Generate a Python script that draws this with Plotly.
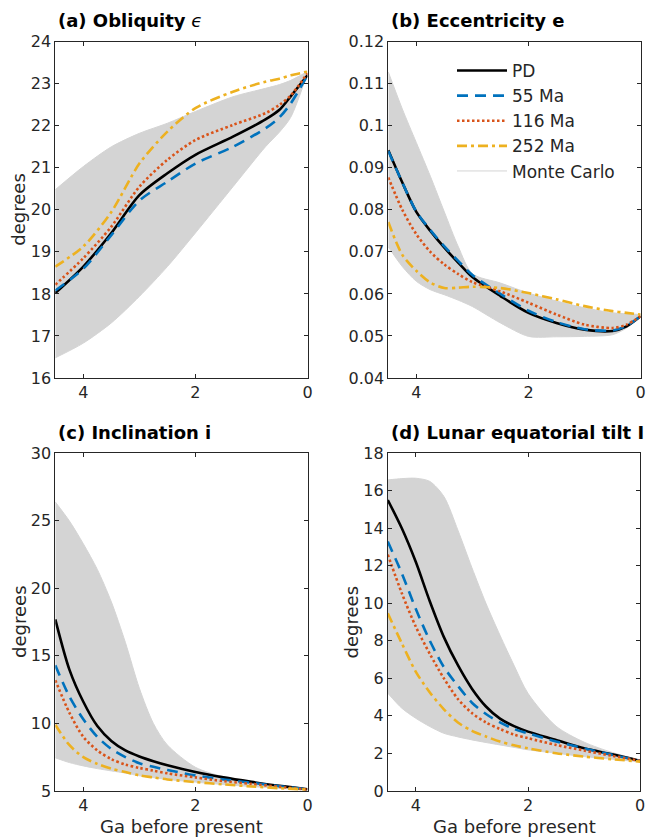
import plotly.graph_objects as go

# ---------------- data ----------------
# x values: Ga before present
xa = [4.5, 4.0, 3.5, 3.0, 2.5, 2.0, 1.33, 0.75, 0.5, 0.3, 0.0]
a_pd   = [18.02, 18.65, 19.45, 20.35, 20.87, 21.31, 21.74, 22.15, 22.38, 22.70, 23.20]
a_55   = [18.08, 18.60, 19.40, 20.22, 20.67, 21.10, 21.50, 21.94, 22.20, 22.53, 23.20]
a_116  = [18.22, 18.85, 19.60, 20.55, 21.19, 21.66, 22.02, 22.30, 22.50, 22.72, 23.25]
a_252  = [18.65, 19.13, 19.95, 21.10, 21.86, 22.42, 22.81, 23.05, 23.12, 23.20, 23.29]
a_mc_hi = [20.48, 21.03, 21.50, 21.82, 22.06, 22.34, 22.69, 22.89, 22.98, 23.08, 23.29]
a_mc_lo = [16.48, 16.83, 17.31, 17.94, 18.65, 19.45, 20.55, 21.50, 21.85, 22.20, 23.25]

xb = [4.5, 4.25, 4.0, 3.75, 3.5, 3.25, 3.0, 2.5, 2.0, 1.5, 1.0, 0.5, 0.25, 0.0]
b_pd   = [0.0942, 0.0865, 0.0795, 0.0750, 0.0710, 0.0674, 0.0640, 0.0595, 0.0555, 0.0531, 0.0515, 0.0512, 0.0523, 0.0547]
b_55   = [0.0940, 0.0865, 0.0796, 0.0752, 0.0713, 0.0678, 0.0645, 0.0600, 0.0560, 0.0533, 0.0516, 0.0513, 0.0524, 0.0547]
b_116  = [0.0877, 0.0800, 0.0742, 0.0700, 0.0670, 0.0647, 0.0628, 0.0606, 0.0579, 0.0551, 0.0527, 0.0519, 0.0527, 0.0547]
b_252  = [0.0771, 0.0693, 0.0655, 0.0627, 0.0614, 0.0615, 0.0617, 0.0614, 0.0602, 0.0587, 0.0571, 0.0559, 0.0555, 0.0551]
b_mc_hi = [0.1128, 0.1040, 0.0960, 0.0880, 0.0795, 0.0712, 0.0648, 0.0626, 0.0602, 0.0583, 0.0567, 0.0555, 0.0553, 0.0551]
b_mc_lo = [0.0712, 0.0665, 0.0630, 0.0610, 0.0598, 0.0585, 0.0570, 0.0531, 0.0499, 0.0498, 0.0499, 0.0503, 0.0519, 0.0547]

xc = [4.5, 4.25, 4.0, 3.75, 3.5, 3.25, 3.0, 2.75, 2.5, 2.0, 1.5, 1.0, 0.5, 0.0]
c_pd   = [17.70, 14.00, 11.60, 9.80, 8.70, 8.00, 7.55, 7.20, 6.90, 6.40, 6.00, 5.67, 5.37, 5.12]
c_55   = [14.30, 12.00, 10.30, 9.00, 8.10, 7.50, 7.05, 6.78, 6.55, 6.15, 5.85, 5.60, 5.35, 5.12]
c_116  = [13.20, 10.80, 9.00, 8.00, 7.35, 6.95, 6.70, 6.50, 6.30, 6.00, 5.72, 5.52, 5.30, 5.10]
c_252  = [9.90, 8.40, 7.50, 7.00, 6.65, 6.40, 6.15, 6.00, 5.85, 5.65, 5.48, 5.33, 5.20, 5.10]
c_mc_hi = [26.40, 25.00, 23.30, 21.40, 19.00, 16.00, 12.60, 10.00, 8.40, 6.75, 6.05, 5.68, 5.38, 5.12]
c_mc_lo = [7.45, 7.10, 6.85, 6.65, 6.48, 6.32, 6.12, 5.98, 5.85, 5.65, 5.47, 5.32, 5.19, 5.05]

xd = [4.5, 4.25, 4.0, 3.75, 3.5, 3.25, 3.0, 2.75, 2.5, 2.25, 2.0, 1.5, 1.0, 0.5, 0.0]
d_pd   = [15.51, 14.00, 12.20, 10.10, 8.20, 6.70, 5.45, 4.50, 3.85, 3.45, 3.16, 2.72, 2.27, 1.95, 1.60]
d_55   = [13.29, 11.60, 9.70, 8.00, 6.60, 5.60, 4.70, 4.10, 3.65, 3.30, 3.07, 2.63, 2.27, 1.92, 1.60]
d_116  = [12.60, 10.54, 8.75, 7.30, 6.00, 4.90, 4.15, 3.65, 3.30, 3.00, 2.81, 2.45, 2.15, 1.87, 1.60]
d_252  = [9.47, 7.87, 6.35, 5.25, 4.35, 3.65, 3.20, 2.90, 2.63, 2.43, 2.27, 2.01, 1.83, 1.69, 1.56]
d_mc_hi = [16.58, 16.65, 16.67, 16.50, 15.70, 13.90, 11.90, 10.00, 8.30, 6.70, 5.20, 3.45, 2.60, 2.05, 1.65]
d_mc_lo = [5.21, 4.41, 3.87, 3.43, 3.07, 2.88, 2.72, 2.58, 2.45, 2.32, 2.19, 2.01, 1.83, 1.69, 1.55]

series_names = ["PD", "55 Ma", "116 Ma", "252 Ma"]
panel_titles = ["<b>(a) Obliquity</b> <i>ϵ</i>", "<b>(b) Eccentricity e</b>",
                "<b>(c) Inclination i</b>", "<b>(d) Lunar equatorial tilt I</b>"]
x_ticks = [0, 2, 4]
a_ticks = [16, 17, 18, 19, 20, 21, 22, 23, 24]
b_ticks = [0.04, 0.05, 0.06, 0.07, 0.08, 0.09, 0.10, 0.11, 0.12]
b_ticktext = ["0.04", "0.05", "0.06", "0.07", "0.08", "0.09", "0.1", "0.11", "0.12"]
c_ticks = [5, 10, 15, 20, 25, 30]
d_ticks = [0, 2, 4, 6, 8, 10, 12, 14, 16, 18]

# ---------------- styling ----------------
W, H = 646, 838
FONT = "DejaVu Sans"
AX = "#262626"
MC = "rgb(212,212,212)"
styles = [
    dict(color="#000000", width=2.6, dash="solid"),
    dict(color="#0072BD", width=2.6, dash="11px,7px"),
    dict(color="#D95319", width=2.6, dash="2.5px,2.5px"),
    dict(color="#EDB120", width=2.6, dash="10px,4px,3px,4px"),
]

# panel geometry in pixels: left, right, top, bottom
geo = [(55.3, 307.5, 41.7, 378.0), (388.3, 640.6, 41.7, 378.0),
       (55.3, 307.5, 453.3, 790.9), (387.8, 640.2, 453.3, 790.9)]

panels = [
    (xa, [a_pd, a_55, a_116, a_252], a_mc_lo, a_mc_hi, [16, 24], a_ticks, None),
    (xb, [b_pd, b_55, b_116, b_252], b_mc_lo, b_mc_hi, [0.04, 0.12], b_ticks, b_ticktext),
    (xc, [c_pd, c_55, c_116, c_252], c_mc_lo, c_mc_hi, [5, 30], c_ticks, None),
    (xd, [d_pd, d_55, d_116, d_252], d_mc_lo, d_mc_hi, [0, 18], d_ticks, None),
]

fig = go.Figure()
annotations = []
for i, (xs, curves, lo, hi, yr, yt, ytt) in enumerate(panels):
    k = "" if i == 0 else str(i + 1)
    xref, yref = "x" + k, "y" + k
    leg = (i == 1)
    # Monte Carlo envelope
    fig.add_trace(go.Scatter(x=xs, y=lo, mode="lines", xaxis=xref, yaxis=yref,
                             line=dict(color=MC, width=1, shape="spline", smoothing=0.8),
                             name="Monte Carlo", showlegend=leg, legendrank=1005,
                             hoverinfo="skip"))
    fig.add_trace(go.Scatter(x=xs, y=hi, mode="lines", xaxis=xref, yaxis=yref,
                             line=dict(color=MC, width=1, shape="spline", smoothing=0.8),
                             fill="tonexty", fillcolor=MC, showlegend=False,
                             hoverinfo="skip"))
    for j, (ys, nm) in enumerate(zip(curves, series_names)):
        st = styles[j]
        fig.add_trace(go.Scatter(x=xs, y=ys, mode="lines", xaxis=xref, yaxis=yref,
                                 name=nm, showlegend=leg, legendrank=1001 + j,
                                 line=dict(color=st["color"], width=st["width"],
                                           dash=st["dash"], shape="spline", smoothing=0.8)))
    l, r, t, b = geo[i]
    xax = dict(domain=[l / W, r / W], range=[4.5, 0], tickvals=x_ticks,
               ticks="inside", ticklen=4, tickwidth=1, tickcolor=AX,
               showline=True, linecolor=AX, linewidth=1, mirror="ticks",
               showgrid=False, zeroline=False, anchor=yref,
               ticklabeloverflow="allow",
               tickfont=dict(family=FONT, size=16, color=AX), automargin=False)
    yax = dict(domain=[1 - b / H, 1 - t / H], range=yr, tickvals=yt,
               ticks="inside", ticklen=4, tickwidth=1, tickcolor=AX,
               showline=True, linecolor=AX, linewidth=1, mirror="ticks",
               showgrid=False, zeroline=False, anchor=xref,
               ticklabeloverflow="allow",
               tickfont=dict(family=FONT, size=16, color=AX), automargin=False)
    if ytt is not None:
        yax["ticktext"] = ytt
    fig.layout["xaxis" + k] = xax
    fig.layout["yaxis" + k] = yax
    # panel title
    annotations.append(dict(text=panel_titles[i], xref="paper", yref="paper",
                            x=(l + 1) / W, y=1 - (t - 21) / H, xanchor="left", yanchor="middle",
                            showarrow=False, font=dict(family=FONT, size=18, color="#000000")))
    if i != 1:
        annotations.append(dict(text="degrees", xref="paper", yref="paper",
                                x=(l - 36.5) / W, y=1 - (t + b) / 2 / H, textangle=-90,
                                xanchor="center", yanchor="middle", showarrow=False,
                                font=dict(family=FONT, size=18, color=AX)))
    if i >= 2:
        annotations.append(dict(text="Ga before present", xref="paper", yref="paper",
                                x=(l + r) / 2 / W, y=1 - (b + 36) / H,
                                xanchor="center", yanchor="middle", showarrow=False,
                                font=dict(family=FONT, size=18, color=AX)))

fig.update_layout(
    width=W, height=H, margin=dict(l=0, r=0, t=0, b=0),
    paper_bgcolor="white", plot_bgcolor="white",
    annotations=annotations,
    showlegend=True,
    legend=dict(x=452 / W, y=1 - 53 / H, xanchor="left", yanchor="top",
                traceorder="normal",
                bgcolor="rgba(0,0,0,0)", borderwidth=0, itemwidth=50,
                font=dict(family=FONT, size=17, color=AX), tracegroupgap=0),
    font=dict(family=FONT),
)

fig.write_html("out.html", config={"displayModeBar": False},
               post_script="document.body.style.margin='0';document.body.style.padding='0';")
